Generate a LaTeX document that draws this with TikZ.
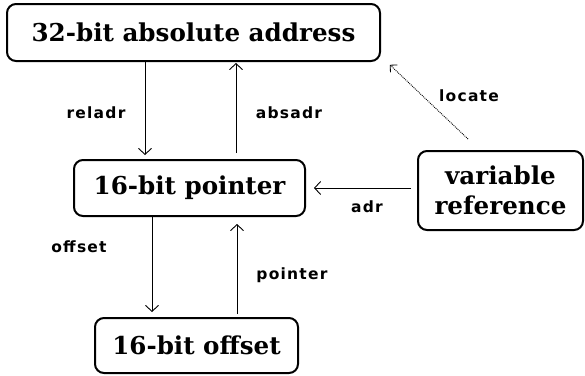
\documentclass[tikz,border=0pt]{standalone}
\usepackage{fontspec}
\usetikzlibrary{arrows.meta}
\newfontfamily\boxfont{DejaVu Serif}
\newfontfamily\lblfont[LetterSpace=8]{DejaVu Sans}
\begin{document}
\begin{tikzpicture}[x=1pt,y=-1pt,
  box/.style={draw, line width=2pt, rounded corners=9pt, inner sep=0pt,
    align=center, font=\boxfont\bfseries\fontsize{24.6}{30}\selectfont},
  lbl/.style={inner sep=0pt, font=\lblfont\bfseries\fontsize{15.5}{18}\selectfont},
  arr/.style={line width=0.9pt, -{Straight Barb[length=6pt,width=13pt,line width=0.9pt]}},
  dotarr/.style={line width=0.9pt, densely dotted, -{Straight Barb[length=5pt,width=10pt,line width=0.8pt,sep]}}]
\useasboundingbox (0,0) rectangle (585,375);
% the four boxes
\node[box, minimum width=373pt, minimum height=57pt] (A) at (193.5,32.5) {32-bit absolute address};
\node[box, minimum width=231pt, minimum height=56pt] (B) at (189.5,188) {16-bit pointer};
\node[box, minimum width=165pt, minimum height=79pt] (V) at (500.5,190.5) {variable\\reference};
\node[box, minimum width=203pt, minimum height=55pt] (O) at (196.5,345.5) {16-bit offset};
% conversions between them
\draw[arr, shorten >=4pt] ([xshift=-48.5pt]A.south) -- ([xshift=-44.5pt]B.north);
\draw[arr, shorten <=6pt, shorten >=1pt] ([xshift=46.5pt]B.north) -- ([xshift=42.5pt]A.south);
\draw[arr, shorten >=5pt] ([xshift=-37.5pt]B.south) -- ([xshift=-44.5pt]O.north);
\draw[arr, shorten <=3pt, shorten >=7pt] ([xshift=40.5pt]O.north) -- ([xshift=47.5pt]B.south);
\draw[arr, shorten <=6pt, shorten >=8pt] ([yshift=2.5pt]V.west) -- (B.east);
\draw[dotarr] ([xshift=-32.5pt,yshift=11pt]V.north) -- ([xshift=8pt,yshift=-2pt]A.south east);
% labels
\node[lbl] (l1) at (96,113) {reladr};
\node[lbl] (l2) at (289,113) {absadr};
\node[lbl] (l3) at (469,96) {locate};
\node[lbl] (l4) at (367,207) {adr};
\node[lbl] (l5) at (79,247) {offset};
\node[lbl] (l6) at (292,275) {pointer};
\end{tikzpicture}
\end{document}
